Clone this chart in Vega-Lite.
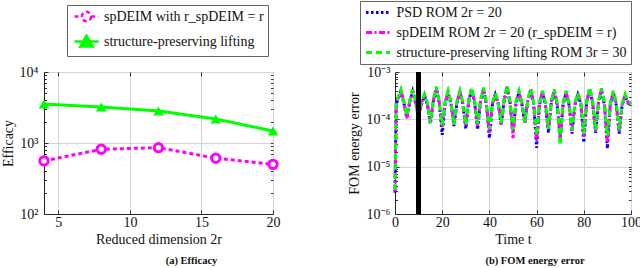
{
"$schema": "https://vega.github.io/schema/vega-lite/v6.json",
"padding": {"left": 0, "top": 0, "right": 0, "bottom": 0},
"bounds": "flush",
"spacing": 122,
"resolve": {"scale": {"color": "independent", "strokeDash": "independent"}, "legend": {"color": "independent", "strokeDash": "independent"}},
"config": {
 "font": "Liberation Serif",
 "view": {"stroke": "#222", "strokeWidth": 1},
 "axis": {"labelFont": "Liberation Serif", "labelFontSize": 14, "labelColor": "#111", "titleFont": "Liberation Serif", "titleFontSize": 14, "titleFontWeight": "normal", "titleColor": "#111", "gridColor": "#d4d4d4", "gridWidth": 1, "domainColor": "#222", "tickColor": "#333", "tickSize": -4, "grid": true, "labelFlush": false},
 "axisY": {"titlePadding": 4, "labelPadding": 10},
 "axisX": {"titlePadding": 3, "labelPadding": 5},
 "legend": {"labelFont": "Liberation Serif", "labelFontSize": 14, "labelColor": "#111", "fillColor": "white", "strokeColor": "#666", "padding": 4, "symbolSize": 144, "labelLimit": 0}
},
"datasets": {
 "eff": [
  {"r": 4, "m": "sp", "v": 560}, {"r": 8, "m": "sp", "v": 815}, {"r": 12, "m": "sp", "v": 860}, {"r": 16, "m": "sp", "v": 610}, {"r": 20, "m": "sp", "v": 500},
  {"r": 4, "m": "lift", "v": 3540}, {"r": 8, "m": "lift", "v": 3210}, {"r": 12, "m": "lift", "v": 2830}, {"r": 16, "m": "lift", "v": 2180}, {"r": 20, "m": "lift", "v": 1475}
 ],
 "err": [
  {"t":0,"s":"psd","e":2.8e-6},{"t":0.5,"s":"psd","e":2.1e-4},{"t":1.25,"s":"psd","e":2.6e-4},{"t":2.5,"s":"psd","e":3.9e-4},{"t":3.75,"s":"psd","e":2.2e-4},{"t":5,"s":"psd","e":1.1e-4},
  {"t":6.25,"s":"psd","e":2.3e-4},{"t":7.5,"s":"psd","e":3.9e-4},{"t":8.75,"s":"psd","e":2.2e-4},{"t":10,"s":"psd","e":1.1e-4},
  {"t":11.25,"s":"psd","e":2.1e-4},{"t":12.5,"s":"psd","e":3.1e-4},{"t":13.75,"s":"psd","e":2.0e-4},{"t":15,"s":"psd","e":7.9e-5},
  {"t":16.25,"s":"psd","e":2.4e-4},{"t":17.5,"s":"psd","e":4.4e-4},{"t":18.75,"s":"psd","e":2.2e-4},{"t":20,"s":"psd","e":4.7e-5},
  {"t":21.25,"s":"psd","e":2.2e-4},{"t":22.5,"s":"psd","e":3.6e-4},{"t":23.75,"s":"psd","e":2.1e-4},{"t":25,"s":"psd","e":7.2e-5},
  {"t":26.25,"s":"psd","e":2.2e-4},{"t":27.5,"s":"psd","e":3.7e-4},{"t":28.75,"s":"psd","e":2.1e-4},{"t":30,"s":"psd","e":6.3e-5},
  {"t":31.25,"s":"psd","e":2.4e-4},{"t":32.5,"s":"psd","e":4.3e-4},{"t":33.75,"s":"psd","e":2.2e-4},{"t":35,"s":"psd","e":6.0e-5},
  {"t":36.25,"s":"psd","e":2.4e-4},{"t":37.5,"s":"psd","e":4.2e-4},{"t":38.75,"s":"psd","e":2.0e-4},{"t":40,"s":"psd","e":4.0e-5},
  {"t":41.25,"s":"psd","e":2.0e-4},{"t":42.5,"s":"psd","e":3.3e-4},{"t":43.75,"s":"psd","e":2.1e-4},{"t":45,"s":"psd","e":7.6e-5},
  {"t":46.25,"s":"psd","e":2.5e-4},{"t":47.5,"s":"psd","e":4.7e-4},{"t":48.75,"s":"psd","e":2.3e-4},{"t":50,"s":"psd","e":5.6e-5},
  {"t":51.25,"s":"psd","e":2.2e-4},{"t":52.5,"s":"psd","e":3.6e-4},{"t":53.75,"s":"psd","e":2.1e-4},{"t":55,"s":"psd","e":8.3e-5},
  {"t":56.25,"s":"psd","e":2.4e-4},{"t":57.5,"s":"psd","e":4.1e-4},{"t":58.75,"s":"psd","e":2.1e-4},{"t":60,"s":"psd","e":2.5e-5},
  {"t":61.25,"s":"psd","e":2.1e-4},{"t":62.5,"s":"psd","e":3.7e-4},{"t":63.75,"s":"psd","e":2.0e-4},{"t":65,"s":"psd","e":5.2e-5},
  {"t":66.25,"s":"psd","e":2.3e-4},{"t":67.5,"s":"psd","e":3.9e-4},{"t":68.75,"s":"psd","e":2.0e-4},{"t":70,"s":"psd","e":3.8e-5},
  {"t":71.25,"s":"psd","e":2.1e-4},{"t":72.5,"s":"psd","e":3.6e-4},{"t":73.75,"s":"psd","e":2.0e-4},{"t":75,"s":"psd","e":5.0e-5},
  {"t":76.25,"s":"psd","e":2.0e-4},{"t":77.5,"s":"psd","e":3.3e-4},{"t":78.75,"s":"psd","e":2.1e-4},{"t":80,"s":"psd","e":3.2e-5},
  {"t":81.25,"s":"psd","e":2.3e-4},{"t":82.5,"s":"psd","e":4.3e-4},{"t":83.75,"s":"psd","e":2.2e-4},{"t":85,"s":"psd","e":5.2e-5},
  {"t":86.25,"s":"psd","e":2.3e-4},{"t":87.5,"s":"psd","e":4.1e-4},{"t":88.75,"s":"psd","e":2.0e-4},{"t":90,"s":"psd","e":2.4e-5},
  {"t":91.25,"s":"psd","e":2.1e-4},{"t":92.5,"s":"psd","e":3.6e-4},{"t":93.75,"s":"psd","e":2.0e-4},{"t":95,"s":"psd","e":5.0e-5},
  {"t":96.25,"s":"psd","e":2.0e-4},{"t":97.5,"s":"psd","e":3.1e-4},{"t":98.75,"s":"psd","e":2.2e-4},{"t":100,"s":"psd","e":2.0e-4},

  {"t":0,"s":"sp","e":3.0e-6},{"t":0.5,"s":"sp","e":2.2e-4},{"t":1.25,"s":"sp","e":2.8e-4},{"t":2.5,"s":"sp","e":4.1e-4},{"t":3.75,"s":"sp","e":2.3e-4},{"t":5,"s":"sp","e":1.05e-4},
  {"t":6.25,"s":"sp","e":2.4e-4},{"t":7.5,"s":"sp","e":4.1e-4},{"t":8.75,"s":"sp","e":2.3e-4},{"t":10,"s":"sp","e":1.07e-4},
  {"t":11.25,"s":"sp","e":2.2e-4},{"t":12.5,"s":"sp","e":3.3e-4},{"t":13.75,"s":"sp","e":2.1e-4},{"t":15,"s":"sp","e":8.9e-5},
  {"t":16.25,"s":"sp","e":2.5e-4},{"t":17.5,"s":"sp","e":4.6e-4},{"t":18.75,"s":"sp","e":2.3e-4},{"t":20,"s":"sp","e":7.1e-5},
  {"t":21.25,"s":"sp","e":2.3e-4},{"t":22.5,"s":"sp","e":3.8e-4},{"t":23.75,"s":"sp","e":2.2e-4},{"t":25,"s":"sp","e":7.9e-5},
  {"t":26.25,"s":"sp","e":2.3e-4},{"t":27.5,"s":"sp","e":3.9e-4},{"t":28.75,"s":"sp","e":2.2e-4},{"t":30,"s":"sp","e":7.1e-5},
  {"t":31.25,"s":"sp","e":2.5e-4},{"t":32.5,"s":"sp","e":4.5e-4},{"t":33.75,"s":"sp","e":2.3e-4},{"t":35,"s":"sp","e":7.1e-5},
  {"t":36.25,"s":"sp","e":2.5e-4},{"t":37.5,"s":"sp","e":4.4e-4},{"t":38.75,"s":"sp","e":2.1e-4},{"t":40,"s":"sp","e":5.2e-5},
  {"t":41.25,"s":"sp","e":2.1e-4},{"t":42.5,"s":"sp","e":3.5e-4},{"t":43.75,"s":"sp","e":2.2e-4},{"t":45,"s":"sp","e":7.9e-5},
  {"t":46.25,"s":"sp","e":2.6e-4},{"t":47.5,"s":"sp","e":4.9e-4},{"t":48.75,"s":"sp","e":2.2e-4},{"t":50,"s":"sp","e":4.0e-5},
  {"t":51.25,"s":"sp","e":2.3e-4},{"t":52.5,"s":"sp","e":3.8e-4},{"t":53.75,"s":"sp","e":2.2e-4},{"t":55,"s":"sp","e":8.9e-5},
  {"t":56.25,"s":"sp","e":2.5e-4},{"t":57.5,"s":"sp","e":4.3e-4},{"t":58.75,"s":"sp","e":2.2e-4},{"t":60,"s":"sp","e":3.5e-5},
  {"t":61.25,"s":"sp","e":2.2e-4},{"t":62.5,"s":"sp","e":3.9e-4},{"t":63.75,"s":"sp","e":2.1e-4},{"t":65,"s":"sp","e":6.0e-5},
  {"t":66.25,"s":"sp","e":2.4e-4},{"t":67.5,"s":"sp","e":4.1e-4},{"t":68.75,"s":"sp","e":2.1e-4},{"t":70,"s":"sp","e":4.0e-5},
  {"t":71.25,"s":"sp","e":2.2e-4},{"t":72.5,"s":"sp","e":3.8e-4},{"t":73.75,"s":"sp","e":2.1e-4},{"t":75,"s":"sp","e":5.6e-5},
  {"t":76.25,"s":"sp","e":2.1e-4},{"t":77.5,"s":"sp","e":3.5e-4},{"t":78.75,"s":"sp","e":2.2e-4},{"t":80,"s":"sp","e":4.5e-5},
  {"t":81.25,"s":"sp","e":2.4e-4},{"t":82.5,"s":"sp","e":4.5e-4},{"t":83.75,"s":"sp","e":2.3e-4},{"t":85,"s":"sp","e":5.6e-5},
  {"t":86.25,"s":"sp","e":2.4e-4},{"t":87.5,"s":"sp","e":4.3e-4},{"t":88.75,"s":"sp","e":2.1e-4},{"t":90,"s":"sp","e":3.2e-5},
  {"t":91.25,"s":"sp","e":2.2e-4},{"t":92.5,"s":"sp","e":3.8e-4},{"t":93.75,"s":"sp","e":2.1e-4},{"t":95,"s":"sp","e":5.5e-5},
  {"t":96.25,"s":"sp","e":2.1e-4},{"t":97.5,"s":"sp","e":3.3e-4},{"t":98.75,"s":"sp","e":2.3e-4},{"t":100,"s":"sp","e":2.1e-4},

  {"t":0,"s":"lift","e":3.3e-6},{"t":0.5,"s":"lift","e":2.3e-4},{"t":1.25,"s":"lift","e":2.9e-4},{"t":2.5,"s":"lift","e":4.3e-4},{"t":3.75,"s":"lift","e":2.4e-4},{"t":5,"s":"lift","e":1.2e-4},
  {"t":6.25,"s":"lift","e":2.5e-4},{"t":7.5,"s":"lift","e":4.3e-4},{"t":8.75,"s":"lift","e":2.4e-4},{"t":10,"s":"lift","e":1.17e-4},
  {"t":11.25,"s":"lift","e":2.3e-4},{"t":12.5,"s":"lift","e":3.4e-4},{"t":13.75,"s":"lift","e":2.2e-4},{"t":15,"s":"lift","e":8.3e-5},
  {"t":16.25,"s":"lift","e":2.6e-4},{"t":17.5,"s":"lift","e":4.9e-4},{"t":18.75,"s":"lift","e":2.4e-4},{"t":20,"s":"lift","e":7.6e-5},
  {"t":21.25,"s":"lift","e":2.4e-4},{"t":22.5,"s":"lift","e":4.0e-4},{"t":23.75,"s":"lift","e":2.3e-4},{"t":25,"s":"lift","e":7.6e-5},
  {"t":26.25,"s":"lift","e":2.4e-4},{"t":27.5,"s":"lift","e":4.0e-4},{"t":28.75,"s":"lift","e":2.3e-4},{"t":30,"s":"lift","e":7.6e-5},
  {"t":31.25,"s":"lift","e":2.6e-4},{"t":32.5,"s":"lift","e":4.7e-4},{"t":33.75,"s":"lift","e":2.4e-4},{"t":35,"s":"lift","e":7.9e-5},
  {"t":36.25,"s":"lift","e":2.6e-4},{"t":37.5,"s":"lift","e":4.7e-4},{"t":38.75,"s":"lift","e":2.2e-4},{"t":40,"s":"lift","e":6.3e-5},
  {"t":41.25,"s":"lift","e":2.2e-4},{"t":42.5,"s":"lift","e":3.6e-4},{"t":43.75,"s":"lift","e":2.3e-4},{"t":45,"s":"lift","e":8.3e-5},
  {"t":46.25,"s":"lift","e":2.7e-4},{"t":47.5,"s":"lift","e":5.2e-4},{"t":48.75,"s":"lift","e":2.3e-4},{"t":50,"s":"lift","e":6.0e-5},
  {"t":51.25,"s":"lift","e":2.4e-4},{"t":52.5,"s":"lift","e":4.0e-4},{"t":53.75,"s":"lift","e":2.3e-4},{"t":55,"s":"lift","e":8.7e-5},
  {"t":56.25,"s":"lift","e":2.6e-4},{"t":57.5,"s":"lift","e":4.5e-4},{"t":58.75,"s":"lift","e":2.3e-4},{"t":60,"s":"lift","e":4.5e-5},
  {"t":61.25,"s":"lift","e":2.3e-4},{"t":62.5,"s":"lift","e":4.0e-4},{"t":63.75,"s":"lift","e":2.2e-4},{"t":65,"s":"lift","e":6.3e-5},
  {"t":66.25,"s":"lift","e":2.5e-4},{"t":67.5,"s":"lift","e":4.3e-4},{"t":68.75,"s":"lift","e":2.2e-4},{"t":70,"s":"lift","e":2.8e-5},
  {"t":71.25,"s":"lift","e":2.3e-4},{"t":72.5,"s":"lift","e":4.0e-4},{"t":73.75,"s":"lift","e":2.2e-4},{"t":75,"s":"lift","e":6.0e-5},
  {"t":76.25,"s":"lift","e":2.2e-4},{"t":77.5,"s":"lift","e":3.6e-4},{"t":78.75,"s":"lift","e":2.3e-4},{"t":80,"s":"lift","e":5.0e-5},
  {"t":81.25,"s":"lift","e":2.5e-4},{"t":82.5,"s":"lift","e":4.7e-4},{"t":83.75,"s":"lift","e":2.4e-4},{"t":85,"s":"lift","e":6.0e-5},
  {"t":86.25,"s":"lift","e":2.5e-4},{"t":87.5,"s":"lift","e":4.5e-4},{"t":88.75,"s":"lift","e":2.2e-4},{"t":90,"s":"lift","e":4.5e-5},
  {"t":91.25,"s":"lift","e":2.3e-4},{"t":92.5,"s":"lift","e":4.0e-4},{"t":93.75,"s":"lift","e":2.2e-4},{"t":95,"s":"lift","e":6.0e-5},
  {"t":96.25,"s":"lift","e":2.2e-4},{"t":97.5,"s":"lift","e":3.4e-4},{"t":98.75,"s":"lift","e":2.4e-4},{"t":100,"s":"lift","e":2.2e-4}
 ]
},
"hconcat": [
 {
  "width": 229, "height": 142,
  "title": {"text": "(a) Efficacy", "orient": "bottom", "anchor": "middle", "dx": 33, "fontSize": 10.5, "fontWeight": "bold", "font": "Liberation Serif", "color": "#111", "offset": 10},
  "data": {"name": "eff"},
  "resolve": {"axis": {"x": "independent", "y": "independent"}},
  "layer": [
   {"mark": {"type": "line", "strokeWidth": 3},
    "encoding": {
     "x": {"field": "r", "type": "quantitative", "scale": {"domain": [4, 20], "nice": false}, "axis": {"orient": "bottom", "values": [5, 10, 15, 20], "title": "Reduced dimension 2r"}},
     "y": {"field": "v", "type": "quantitative", "scale": {"type": "log", "domain": [100, 10000], "nice": false}, "axis": {"orient": "left", "values": [100, 1000, 10000], "title": "Efficacy", "labelExpr": "datum.value < 500 ? '10²' : datum.value < 5000 ? '10³' : '10⁴'"}},
     "color": {"field": "m", "type": "nominal", "scale": {"domain": ["sp", "lift"], "range": ["#ff00ff", "#00ff00"]},
      "legend": {"orient": "none", "legendX": 23, "legendY": -67, "title": null, "rowPadding": 3, "symbolOffset": 8, "labelOffset": 10,
       "labelExpr": "datum.value === 'sp' ? 'spDEIM with r_spDEIM = r' : 'structure-preserving lifting'",
       "encode": {"symbols": {"update": {
        "shape": {"signal": "datum.value === 'sp' ? 'M-2,0L-0.78,0M0.78,0L2,0M0.78,0A0.78,0.78 0 1 1 -0.78,0A0.78,0.78 0 1 1 0.78,0' : 'M-2,0L2,0M0,-0.95L1.05,0.85L-1.05,0.85Z'"},
        "fill": {"signal": "datum.value === 'sp' ? 'white' : '#00ff00'"},
        "strokeDash": {"value": [1, 0]},
        "strokeWidth": {"value": 2.5}}}}}},
     "strokeDash": {"field": "m", "type": "nominal", "scale": {"domain": ["sp", "lift"], "range": [[4, 3], [1, 0]]}, "legend": null}
    }},
   {"transform": [{"filter": "datum.m === 'sp'"}],
    "mark": {"type": "point", "shape": "circle", "filled": false, "fill": "white", "stroke": "#ff00ff", "strokeWidth": 3, "size": 70, "opacity": 1},
    "encoding": {
     "x": {"field": "r", "type": "quantitative", "axis": {"orient": "top", "values": [5, 10, 15], "labels": false, "domain": false, "grid": false, "title": null}},
     "y": {"field": "v", "type": "quantitative", "axis": {"orient": "left", "values": [200, 300, 400, 500, 600, 700, 800, 900, 2000, 3000, 4000, 5000, 6000, 7000, 8000, 9000], "labels": false, "domain": false, "grid": false, "title": null, "tickSize": -2.5}}}},
   {"transform": [{"filter": "datum.m === 'lift'"}],
    "mark": {"type": "point", "shape": "triangle-up", "filled": true, "color": "#00ff00", "size": 110, "opacity": 1},
    "encoding": {
     "x": {"field": "r", "type": "quantitative", "axis": null},
     "y": {"field": "v", "type": "quantitative", "axis": {"orient": "right", "values": [200, 300, 400, 500, 600, 700, 800, 900, 1000, 2000, 3000, 4000, 5000, 6000, 7000, 8000, 9000], "labels": false, "domain": false, "grid": false, "title": null, "tickSize": -2.5}}}}
  ]
 },
 {
  "width": 236, "height": 142,
  "title": {"text": "(b) FOM energy error", "orient": "bottom", "anchor": "middle", "dx": 22, "fontSize": 10.5, "fontWeight": "bold", "font": "Liberation Serif", "color": "#111", "offset": 10},
  "data": {"name": "err"},
  "resolve": {"axis": {"x": "independent", "y": "independent"}},
  "layer": [
   {"transform": [{"filter": "datum.s === 'psd'"}],
    "mark": {"type": "line", "strokeWidth": 3},
    "encoding": {
     "x": {"field": "t", "type": "quantitative", "scale": {"domain": [0, 100], "nice": false}, "axis": {"orient": "bottom", "values": [0, 20, 40, 60, 80, 100], "title": "Time t"}},
     "y": {"field": "e", "type": "quantitative", "scale": {"type": "log", "domain": [1e-6, 1e-3], "nice": false}, "axis": {"orient": "left", "values": [1e-6, 1e-5, 1e-4, 1e-3], "title": "FOM energy error", "titlePadding": 5, "labelPadding": 9, "labelExpr": "datum.value < 5e-6 ? '10⁻⁶' : datum.value < 5e-5 ? '10⁻⁵' : datum.value < 5e-4 ? '10⁻⁴' : '10⁻³'"}},
     "color": {"field": "s", "type": "nominal", "scale": {"domain": ["psd", "sp", "lift"], "range": ["#0000ff", "#ff00ff", "#00ff00"]},
      "legend": {"orient": "none", "legendX": -35, "legendY": -71, "title": null, "symbolType": "M-2,0L2,0", "rowPadding": 5, "symbolOffset": 6.5, "labelOffset": 11, "symbolStrokeWidth": 3, "labelLimit": 0,
       "labelExpr": "datum.value === 'psd' ? 'PSD ROM 2r = 20' : datum.value === 'sp' ? 'spDEIM ROM 2r = 20 (r_spDEIM = r)' : 'structure-preserving lifting ROM 3r = 30'"}},
     "strokeDash": {"field": "s", "type": "nominal", "scale": {"domain": ["psd", "sp", "lift"], "range": [[2.5, 2.5], [6, 2.5, 2, 2.5], [6, 4]]}}
    }},
   {"transform": [{"filter": "datum.s === 'sp'"}],
    "mark": {"type": "line", "strokeWidth": 3},
    "encoding": {
     "x": {"field": "t", "type": "quantitative", "axis": {"orient": "top", "values": [20, 40, 60, 80], "labels": false, "domain": false, "grid": false, "title": null}},
     "y": {"field": "e", "type": "quantitative", "axis": {"orient": "left", "values": [2e-6, 3e-6, 4e-6, 5e-6, 6e-6, 7e-6, 8e-6, 9e-6, 2e-5, 3e-5, 4e-5, 5e-5, 6e-5, 7e-5, 8e-5, 9e-5, 2e-4, 3e-4, 4e-4, 5e-4, 6e-4, 7e-4, 8e-4, 9e-4], "labels": false, "domain": false, "grid": false, "title": null, "tickSize": -2.5}},
     "color": {"field": "s", "type": "nominal"},
     "strokeDash": {"field": "s", "type": "nominal"}
    }},
   {"transform": [{"filter": "datum.s === 'lift'"}],
    "mark": {"type": "line", "strokeWidth": 3},
    "encoding": {
     "x": {"field": "t", "type": "quantitative", "axis": null},
     "y": {"field": "e", "type": "quantitative", "axis": {"orient": "right", "values": [2e-6, 3e-6, 4e-6, 5e-6, 6e-6, 7e-6, 8e-6, 9e-6, 1e-5, 2e-5, 3e-5, 4e-5, 5e-5, 6e-5, 7e-5, 8e-5, 9e-5, 1e-4, 2e-4, 3e-4, 4e-4, 5e-4, 6e-4, 7e-4, 8e-4, 9e-4], "labels": false, "domain": false, "grid": false, "title": null, "tickSize": -2.5}},
     "color": {"field": "s", "type": "nominal"},
     "strokeDash": {"field": "s", "type": "nominal"}
    }},
   {"mark": {"type": "rule", "color": "black", "strokeWidth": 4.5},
    "encoding": {"x": {"datum": 10, "axis": null}}}
  ]
 }
]
}
